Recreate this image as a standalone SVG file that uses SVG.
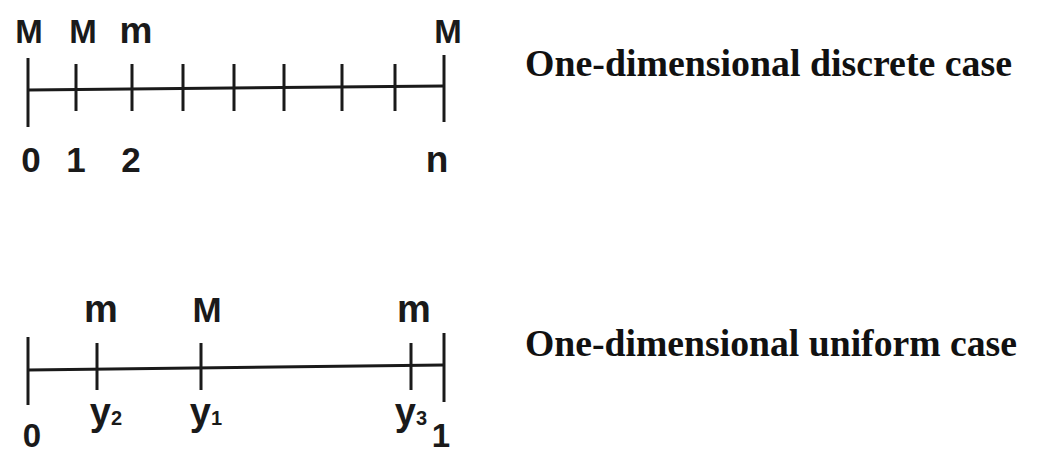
<svg xmlns="http://www.w3.org/2000/svg" width="1056" height="453" viewBox="0 0 1056 453">
<style>
.ln{stroke:#1a1a1a;stroke-width:3;fill:none;stroke-linecap:butt}
.lb{font-family:"Liberation Sans",Arial,sans-serif;font-weight:bold;fill:#1a1a1a;text-anchor:middle}
.ttl{font-family:"Liberation Serif","Times New Roman",serif;font-weight:bold;font-size:37px;fill:#111}
</style>
<rect width="1056" height="453" fill="#ffffff"/>
<g id="connectors">
<g id="discrete-axis">
<path class="ln" d="M28,90 L444,86"/>
<path class="ln" d="M28,58 V127"/>
<path class="ln" d="M444,55 V122"/>
<path class="ln" d="M76,64 V111 M132,64 V111 M183,64 V111 M234,64 V111 M284,64 V111 M342,64 V111 M395,64 V111"/>
</g>
<g id="uniform-axis">
<path class="ln" d="M28,370 L444,365"/>
<path class="ln" d="M28,337 V405"/>
<path class="ln" d="M444,333 V402"/>
<path class="ln" d="M97,343 V390 M201,343 V390 M411,343 V390"/>
</g>
</g>
<g id="discrete-labels">
<text class="lb" x="29" y="43" font-size="33">M</text>
<text class="lb" x="83" y="43" font-size="33">M</text>
<text class="lb" x="136" y="43" font-size="37">m</text>
<text class="lb" x="448" y="43" font-size="33">M</text>
<text class="lb" x="31" y="172" font-size="35">0</text>
<text class="lb" x="76" y="172" font-size="35">1</text>
<text class="lb" x="131" y="172" font-size="35">2</text>
<text class="lb" x="437" y="172" font-size="37">n</text>
</g>
<g id="uniform-labels">
<text class="lb" x="101" y="322" font-size="38">m</text>
<text class="lb" x="207" y="322" font-size="35">M</text>
<text class="lb" x="414" y="322" font-size="38">m</text>
<text class="lb" x="106" y="425" font-size="38">y<tspan font-size="20">2</tspan></text>
<text class="lb" x="206" y="425" font-size="38">y<tspan font-size="20">1</tspan></text>
<text class="lb" x="411" y="425" font-size="38">y<tspan font-size="20">3</tspan></text>
<text class="lb" x="32" y="447" font-size="33">0</text>
<text class="lb" x="441" y="447" font-size="33">1</text>
</g>
<g id="title-discrete">
<text class="ttl" x="525" y="76" textLength="487" lengthAdjust="spacingAndGlyphs">One-dimensional discrete case</text>
</g>
<g id="title-uniform">
<text class="ttl" x="525" y="356" textLength="492" lengthAdjust="spacingAndGlyphs">One-dimensional uniform case</text>
</g>
</svg>
